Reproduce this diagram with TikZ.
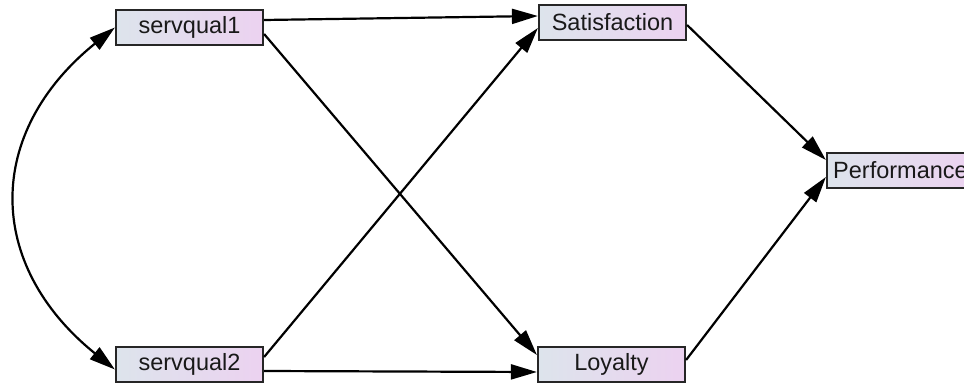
\documentclass[tikz,border=0pt]{standalone}
\usepackage{fontspec}
\setmainfont{Liberation Sans}
\usepackage{tikz}
\usetikzlibrary{arrows.meta}
\definecolor{boxleft}{HTML}{DDE4EC}
\definecolor{boxright}{HTML}{ECD2F0}

\begin{document}
\begin{tikzpicture}[->,>={Triangle[length=26pt,width=15pt]},x=1pt,y=-1pt,
                    line width=2.2pt,
                    var node/.style={rectangle,draw=black!85,left color=boxleft,right color=boxright,
                    minimum width=147pt,minimum height=35pt,inner sep=0pt,text=black!90,
                    font=\fontsize{23.5}{27}\selectfont}]
\useasboundingbox (0,0) rectangle (964,385);

\node[var node] (sq1) at (189.5,27.5) {servqual1};
\node[var node] (sq2) [below of=sq1,node distance=337pt] {servqual2};
\node[var node] (sat) [right of=sq1,node distance=423pt,yshift=5pt] {Satisfaction};
\node[var node] (loy) [right of=sq2,node distance=422pt] {Loyalty};
\node[var node] (perf) [right of=sat,node distance=288pt,yshift=-148pt] {Performance};

\path
([yshift=7.5pt]sq1.east) edge ([yshift=6.5pt]sat.west)
([yshift=-6.5pt]sq1.east) edge ([yshift=9.5pt]loy.west)
([yshift=7.5pt]sq2.east) edge ([yshift=-5.5pt]sat.west)
([yshift=-6.5pt]sq2.east) edge ([yshift=-7.5pt]loy.west)
([yshift=-2.5pt]sat.east) edge ([yshift=10.5pt]perf.west)
([yshift=4.5pt]loy.east) edge ([yshift=-6.5pt]perf.west);

\draw[<->] (sq1.west) .. controls +(-130,105) and +(-130,-105) .. ([yshift=-5pt]sq2.west);
\end{tikzpicture}
\end{document}
